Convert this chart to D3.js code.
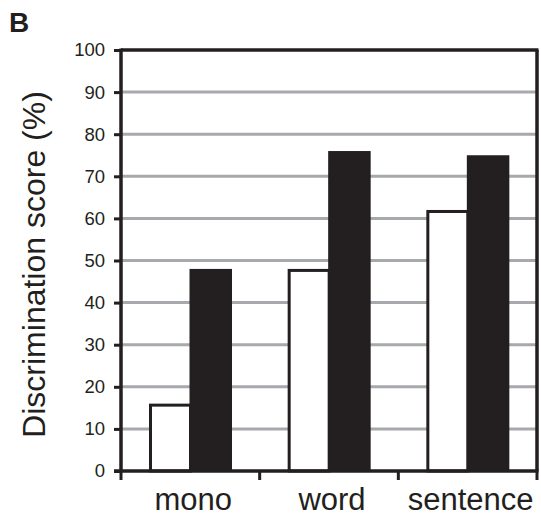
<!DOCTYPE html>
<html>
<head>
<meta charset="utf-8">
<script src="https://cdn.jsdelivr.net/npm/d3@7"></script>
<style>
  html, body { margin: 0; padding: 0; background: #fff; }
  svg { display: block; }
  text { font-family: "Liberation Sans", Arial, Helvetica, sans-serif; fill: #231f20; }
</style>
</head>
<body>
<svg id="chart" width="541" height="517"></svg>
<script>
// ---- data ----
const categories = ["mono", "word", "sentence"];
const seriesNames = ["open", "filled"];
const openValues = [16, 48, 62];
const filledValues = [48, 76, 75];
const yTicks = [0, 10, 20, 30, 40, 50, 60, 70, 80, 90, 100];
const panelLabel = "B";
const yTitle = "Discrimination score (%)";

// ---- layout ----
const svg = d3.select("#chart");
const pLeft = 121, pRight = 537, pTop = 50, pBottom = 471;
const ink = "#231f20", grid = "#a7a9ac";

const x = d3.scaleBand().domain(categories).range([pLeft, pRight]).paddingInner(0).paddingOuter(0);
const xs = d3.scaleBand().domain(seriesNames).range([28, 111]).padding(0);
const y = d3.scaleLinear().domain([0, 100]).range([pBottom, pTop]);

// gridlines
svg.append("g").selectAll("line")
  .data(yTicks.filter(t => t > 0 && t < 100))
  .join("line")
  .attr("x1", pLeft).attr("x2", pRight)
  .attr("y1", d => y(d)).attr("y2", d => y(d))
  .attr("stroke", grid).attr("stroke-width", 3);

// bars
const rows = categories.map((c, i) => ({ c, open: openValues[i], filled: filledValues[i] }));
const g = svg.append("g");
g.selectAll("rect.open").data(rows).join("rect")
  .attr("class", "open")
  .attr("x", d => x(d.c) + xs("open") + 1.5)
  .attr("width", xs.bandwidth() - 1.5)
  .attr("y", d => y(d.open) + 1.5)
  .attr("height", d => pBottom - y(d.open) - 1.5)
  .attr("fill", "#fff").attr("stroke", ink).attr("stroke-width", 3);
g.selectAll("rect.filled").data(rows).join("rect")
  .attr("class", "filled")
  .attr("x", d => x(d.c) + xs("filled") - 1)
  .attr("width", xs.bandwidth() + 1)
  .attr("y", d => y(d.filled))
  .attr("height", d => pBottom - y(d.filled))
  .attr("fill", ink);

// frame: top and right
svg.append("line").attr("x1", pLeft).attr("x2", pRight + 1.5).attr("y1", pTop).attr("y2", pTop)
  .attr("stroke", ink).attr("stroke-width", 3.5);
svg.append("line").attr("x1", pRight).attr("x2", pRight).attr("y1", pTop).attr("y2", pBottom)
  .attr("stroke", ink).attr("stroke-width", 3.5);

// y axis
const yAxis = d3.axisLeft(y).tickValues(yTicks).tickSize(7).tickPadding(9).tickFormat(d3.format("d"));
const ya = svg.append("g").attr("transform", `translate(${pLeft},0)`).call(yAxis);
ya.select(".domain").attr("stroke", ink).attr("stroke-width", 3.5).attr("d", `M0,${pTop - 1.5}V${pBottom + 1.5}`);
ya.selectAll(".tick line").attr("stroke", ink).attr("stroke-width", 3);
ya.selectAll(".tick text").attr("font-size", 18.5).attr("fill", ink)
  .style("font-family", '"Liberation Sans", Arial, sans-serif');

// x axis (ticks at band boundaries)
const boundaries = categories.map(c => x(c)).concat([pRight]);
const xa = svg.append("g");
xa.append("line").attr("x1", pLeft - 7).attr("x2", pRight + 1.5).attr("y1", pBottom).attr("y2", pBottom)
  .attr("stroke", ink).attr("stroke-width", 3.5);
xa.selectAll("line.tk").data(boundaries).join("line").attr("class", "tk")
  .attr("x1", d => d).attr("x2", d => d).attr("y1", pBottom).attr("y2", pBottom + 9)
  .attr("stroke", ink).attr("stroke-width", 3);
xa.selectAll("text").data(categories).join("text")
  .attr("x", d => x(d) + x.bandwidth() / 2 + 3)
  .attr("y", 510)
  .attr("text-anchor", "middle")
  .attr("font-size", 31)
  .text(d => d);

// y title
svg.append("text")
  .attr("transform", `translate(45,${(pTop + pBottom) / 2 + 4}) rotate(-90)`)
  .attr("text-anchor", "middle")
  .attr("font-size", 32)
  .text(yTitle);

// panel label
svg.append("text").attr("x", 9).attr("y", 32)
  .attr("font-size", 28).attr("font-weight", "bold")
  .text(panelLabel);
</script>
</body>
</html>
